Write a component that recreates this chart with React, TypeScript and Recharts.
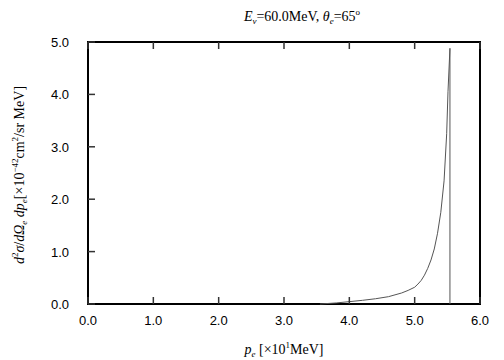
import React from "react";
import { LineChart, Line, XAxis, YAxis, ReferenceArea } from "recharts";

const pe = [3.55, 3.8, 4.0, 4.2, 4.4, 4.6, 4.8, 4.9, 5.0, 5.05, 5.1, 5.15, 5.2, 5.25, 5.3, 5.35, 5.4, 5.45, 5.49, 5.51, 5.54, 5.54];
const sigma = [0, 0.02, 0.045, 0.07, 0.1, 0.14, 0.21, 0.26, 0.32, 0.38, 0.45, 0.55, 0.68, 0.84, 1.05, 1.35, 1.75, 2.35, 3.25, 4.05, 4.88, 0];
const xTicks = [0, 1, 2, 3, 4, 5, 6];
const yTicks = [0, 1, 2, 3, 4, 5];

const data = pe.map((p, i) => ({ p, s: sigma[i] }));

const TL = 7;
const tickColor = "#333";
const labelFont = { fontFamily: "'Liberation Sans', Arial, sans-serif", fontSize: 13, fill: "#000" };

const BottomTick = (props: any) => {
  const { x, y, payload } = props;
  return (
    <g>
      <line x1={x} x2={x} y1={y} y2={y - TL} stroke={tickColor} strokeWidth={1.5} />
      <text x={x} y={y + 21} textAnchor="middle" {...labelFont}>{Number(payload.value).toFixed(1)}</text>
    </g>
  );
};
const TopTick = (props: any) => {
  const { x, y } = props;
  return <line x1={x} x2={x} y1={y} y2={y + TL} stroke={tickColor} strokeWidth={1.5} />;
};
const LeftTick = (props: any) => {
  const { x, y, payload } = props;
  return (
    <g>
      <line x1={x} x2={x + TL} y1={y} y2={y} stroke={tickColor} strokeWidth={1.5} />
      <text x={x - 19} y={y + 5} textAnchor="end" {...labelFont}>{Number(payload.value).toFixed(1)}</text>
    </g>
  );
};
const RightTick = (props: any) => {
  const { x, y } = props;
  return <line x1={x} x2={x - TL} y1={y} y2={y} stroke={tickColor} strokeWidth={1.5} />;
};

const serif = "'Liberation Serif', 'Times New Roman', serif";

export default function App() {
  return (
    <div style={{ position: "absolute", left: 0, top: 0, width: 504, height: 360, background: "#fff" }}>
      <LineChart width={504} height={360} data={data} margin={{ top: 41, right: 23, bottom: 55, left: 87 }}>
        <XAxis dataKey="p" type="number" domain={[0, 6]} ticks={xTicks} height={1} tickSize={0} tickMargin={0}
          axisLine={false} tickLine={false} tick={<BottomTick />} interval={0} />
        <XAxis xAxisId="top" orientation="top" dataKey="p" type="number" domain={[0, 6]} ticks={xTicks} height={1}
          tickSize={0} tickMargin={0} axisLine={false} tickLine={false} tick={<TopTick />} interval={0} />
        <YAxis type="number" domain={[0, 5]} ticks={yTicks} width={1} tickSize={0} tickMargin={0}
          axisLine={false} tickLine={false} tick={<LeftTick />} interval={0} />
        <YAxis yAxisId="right" orientation="right" type="number" domain={[0, 5]} ticks={yTicks} width={1}
          tickSize={0} tickMargin={0} axisLine={false} tickLine={false} tick={<RightTick />} interval={0} />
        <Line dataKey="s" type="linear" stroke="#555" strokeWidth={1} dot={false} isAnimationActive={false} />
        <ReferenceArea x1={0} x2={6} y1={0} y2={5} fill="none" stroke="#000" strokeWidth={2} fillOpacity={0} strokeOpacity={1} ifOverflow="visible" />
      </LineChart>
      <svg width={504} height={360} style={{ position: "absolute", left: 0, top: 0, pointerEvents: "none" }}>
        <text x={302} y={21} textAnchor="middle" fontFamily={serif} fontSize={14} fill="#000">
          <tspan fontStyle="italic">E</tspan>
          <tspan fontStyle="italic" fontSize={9} dy={3}>ν</tspan>
          <tspan dy={-3}>=60.0MeV,  </tspan>
          <tspan fontStyle="italic">θ</tspan>
          <tspan fontStyle="italic" fontSize={9} dy={3}>e</tspan>
          <tspan dy={-3}>=65</tspan>
          <tspan fontSize={9} dy={-6}>o</tspan>
        </text>
        <text x={284} y={354} textAnchor="middle" fontFamily={serif} fontSize={14} fill="#000">
          <tspan fontStyle="italic">p</tspan>
          <tspan fontStyle="italic" fontSize={9} dy={3}>e</tspan>
          <tspan dy={-3}> [×10</tspan>
          <tspan fontSize={9} dy={-6}>1</tspan>
          <tspan dy={6}>MeV]</tspan>
        </text>
        <text transform="translate(24,175) rotate(-90)" x={0} y={0} textAnchor="middle" fontFamily={serif} fontSize={14} fill="#000">
          <tspan fontStyle="italic">d</tspan>
          <tspan fontSize={9} dy={-6}>2</tspan>
          <tspan fontStyle="italic" dy={6}>σ</tspan>
          <tspan>/</tspan>
          <tspan fontStyle="italic">d</tspan>
          <tspan fontStyle="italic">Ω</tspan>
          <tspan fontStyle="italic" fontSize={9} dy={3}>e</tspan>
          <tspan fontStyle="italic" dy={-3}> dp</tspan>
          <tspan fontStyle="italic" fontSize={9} dy={3}>e</tspan>
          <tspan dy={-3}>[×10</tspan>
          <tspan fontSize={9} dy={-6}>−42</tspan>
          <tspan dy={6}>cm</tspan>
          <tspan fontSize={9} dy={-6}>2</tspan>
          <tspan dy={6}>/sr MeV]</tspan>
        </text>
      </svg>
    </div>
  );
}
